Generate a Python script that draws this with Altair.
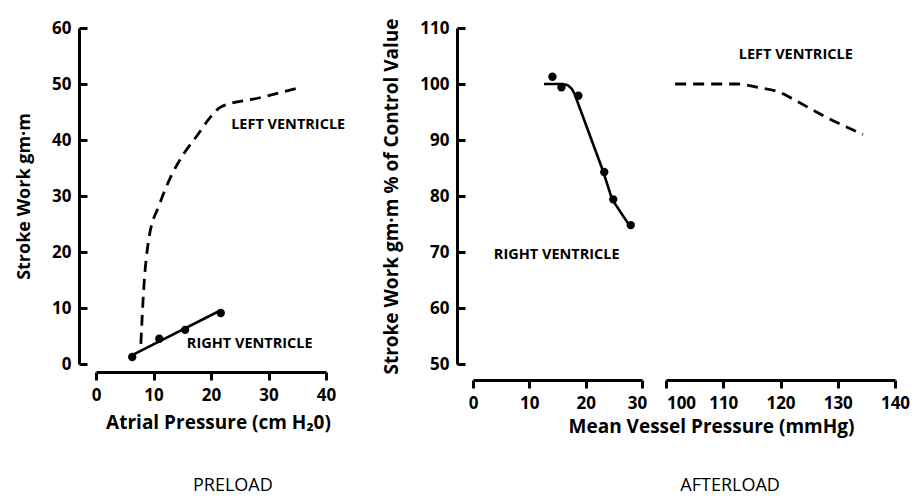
import altair as alt
import pandas as pd

FONT = "Open Sans"

# ---------------- PRELOAD panel ----------------
pre_x_ticks = [0, 10, 20, 30, 40]
pre_y_ticks = [0, 10, 20, 30, 40, 50, 60]

lv_pre_x = [7.8, 8.3, 9.2, 11.0, 13.0, 15.3, 17.6, 19.9, 21.7, 28.3, 34.9]
lv_pre_y = [3.6, 13.4, 22.4, 28.4, 33.4, 37.6, 40.8, 44.1, 45.9, 47.5, 49.2]

rv_pre_line_x = [6.3, 21.7]
rv_pre_line_y = [1.6, 9.6]
rv_pre_pts_x = [6.3, 11.0, 15.5, 21.7]
rv_pre_pts_y = [1.25, 4.5, 6.1, 9.1]

pre_label_text = ["LEFT VENTRICLE", "RIGHT VENTRICLE"]
pre_label_x = [23.5, 15.8]
pre_label_y = [42.7, 3.6]

pre_caption_text = ["PRELOAD"]
pre_caption_x = [23.8]
pre_caption_y = [-21.8]

# ---------------- AFTERLOAD panel ----------------
aft_x1_ticks = [0, 10, 20, 30]
aft_x2_ticks = [100, 110, 120, 130, 140]
aft_y_ticks = [50, 60, 70, 80, 90, 100, 110]

rv_aft_line_x = [12.6, 16.0, 16.8, 17.5, 18.0, 23.0, 24.7, 28.0]
rv_aft_line_y = [100, 100, 99.8, 99.2, 98.3, 84.7, 79.4, 74.4]
rv_aft_pts_x = [14.1, 15.7, 18.7, 23.3, 24.9, 28.0]
rv_aft_pts_y = [101.3, 99.4, 97.9, 84.3, 79.4, 74.8]

lv_aft_x = [101.6, 112.4, 116.0, 119.9, 122.0, 128.1, 134.4]
lv_aft_y = [100, 100, 99.4, 98.5, 97.4, 94.0, 91.0]

aft1_label_text = ["RIGHT VENTRICLE"]
aft1_label_x = [3.7]
aft1_label_y = [69.5]
aft2_label_text = ["LEFT VENTRICLE"]
aft2_label_x = [112.7]
aft2_label_y = [105.1]

aft_caption_text = ["AFTERLOAD"]
aft_caption_x = [111.2]
aft_caption_y = [28.2]

# ---------------- helpers ----------------
common_axis = dict(
    domainColor="black", domainWidth=3, tickColor="black", tickWidth=3,
    labelFont=FONT, labelFontSize=17, labelFontWeight="bold", labelColor="black",
    labelFlush=False, labelOverlap=False,
    titleFont=FONT, titleFontSize=19, titleFontWeight="bold", titleColor="black",
    grid=False,
)


def xaxis(values, offset, title=None, **kw):
    d = dict(common_axis)
    d.update(dict(values=values, offset=offset, tickSize=8, labelPadding=7))
    d["title"] = title
    d.update(kw)
    return alt.Axis(**d)


def yaxis(values, offset, title, **kw):
    d = dict(common_axis)
    d.update(dict(values=values, offset=offset, tickSize=alt.ExprRef(expr="-8"),
                  labelPadding=16, title=title, titlePadding=18))
    d.update(kw)
    return alt.Axis(**d)


def panel(x_enc, y_enc, lines_solid, lines_dashed, pts, labels, captions, w, h):
    layers = []
    for df in lines_dashed:
        layers.append(alt.Chart(df).mark_line(color="black", strokeWidth=2.8,
                                              strokeDash=[11, 7], interpolate="monotone")
                      .encode(x=x_enc, y=y_enc))
    for df in lines_solid:
        layers.append(alt.Chart(df).mark_line(color="black", strokeWidth=2.6,
                                              interpolate="linear")
                      .encode(x=x_enc, y=y_enc))
    for df in pts:
        layers.append(alt.Chart(df).mark_circle(color="black", size=70, opacity=1)
                      .encode(x=x_enc, y=y_enc))
    for df in labels:
        layers.append(alt.Chart(df).mark_text(align="left", baseline="middle", font=FONT,
                                              fontSize=14.5, fontWeight="bold", color="black")
                      .encode(x=x_enc, y=y_enc, text="t:N"))
    for df in captions:
        layers.append(alt.Chart(df).mark_text(align="center", baseline="middle", font=FONT,
                                              fontSize=18, fontWeight="normal", color="black")
                      .encode(x=x_enc, y=y_enc, text="t:N"))
    return alt.layer(*layers).properties(width=w, height=h)


# ---------------- PRELOAD ----------------
pre_x = alt.X("x:Q", scale=alt.Scale(domain=[0, 40], nice=False, zero=False),
              axis=xaxis(pre_x_ticks, 8, "Atrial Pressure (cm H\u20820)", titleX=122,
                         titlePadding=10))
pre_y = alt.Y("y:Q", scale=alt.Scale(domain=[0, 60], nice=False),
              axis=yaxis(pre_y_ticks, 17, "Stroke Work gm\u00b7m", titleFontSize=18))

left = panel(
    pre_x, pre_y,
    [pd.DataFrame({"x": rv_pre_line_x, "y": rv_pre_line_y})],
    [pd.DataFrame({"x": lv_pre_x, "y": lv_pre_y})],
    [pd.DataFrame({"x": rv_pre_pts_x, "y": rv_pre_pts_y})],
    [pd.DataFrame({"x": pre_label_x, "y": pre_label_y, "t": pre_label_text})],
    [pd.DataFrame({"x": pre_caption_x, "y": pre_caption_y, "t": pre_caption_text})],
    230, 336,
)

# ---------------- AFTERLOAD ----------------
aft_y = alt.Y("y:Q", scale=alt.Scale(domain=[50, 110], nice=False, zero=False),
              axis=yaxis(aft_y_ticks, 16, "Stroke Work gm\u00b7m % of Control Value"))
aft_y_noaxis = alt.Y("y:Q", scale=alt.Scale(domain=[50, 110], nice=False, zero=False), axis=None)

aft_x1 = alt.X("x:Q", scale=alt.Scale(domain=[0, 30], nice=False, zero=False),
               axis=xaxis(aft_x1_ticks, 16,
                          labelOffset={"condition": {"test": "datum.value === 30", "value": -5},
                                       "value": 0}))
aft_x2 = alt.X("x:Q", scale=alt.Scale(domain=[100, 140], nice=False, zero=False),
               axis=xaxis(aft_x2_ticks, 16, "Mean Vessel Pressure (mmHg)", titleX=45,
                          titlePadding=6,
                          labelOffset={"condition": {"test": "datum.value === 100", "value": 15},
                                       "value": 0}))

seg1 = panel(
    aft_x1, aft_y,
    [pd.DataFrame({"x": rv_aft_line_x, "y": rv_aft_line_y})],
    [],
    [pd.DataFrame({"x": rv_aft_pts_x, "y": rv_aft_pts_y})],
    [pd.DataFrame({"x": aft1_label_x, "y": aft1_label_y, "t": aft1_label_text})],
    [],
    169, 336,
)
seg2 = panel(
    aft_x2, aft_y_noaxis,
    [],
    [pd.DataFrame({"x": lv_aft_x, "y": lv_aft_y})],
    [],
    [pd.DataFrame({"x": aft2_label_x, "y": aft2_label_y, "t": aft2_label_text})],
    [pd.DataFrame({"x": aft_caption_x, "y": aft_caption_y, "t": aft_caption_text})],
    229, 336,
)

right = alt.hconcat(seg1, seg2, spacing=24, bounds="flush")

chart = alt.hconcat(left, right, spacing=147, bounds="flush").properties(
    padding={"left": 7, "top": 9, "right": 5, "bottom": 5},
    background="white",
).configure_view(stroke=None).resolve_scale(y="independent")

chart.save("out.html", embed_options={"renderer": "svg", "actions": False})
